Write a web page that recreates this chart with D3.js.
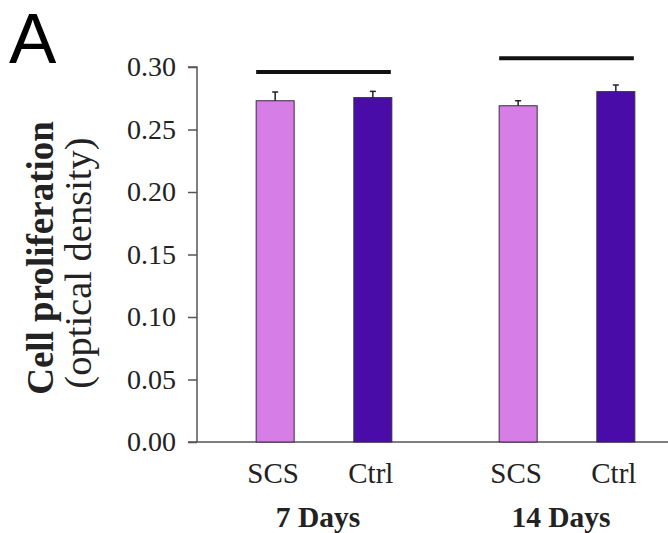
<!DOCTYPE html>
<html lang="en">
    <head>
	<meta charset="utf-8">
	<title>Cell proliferation</title>
	<script src="https://cdn.jsdelivr.net/npm/d3@7"></script>
	<style>
	 body { margin: 0; background: #fff; }
	 svg { display: block; }
	</style>
    </head>
    <body>
	<div id="graph"></div>
	<script type="text/javascript">

	 //Data
	 const groups = ["7 Days", "14 Days"];
	 const series = ["SCS", "Ctrl"];
	 const scsValues = [0.273, 0.269];
	 const ctrlValues = [0.2755, 0.2803];
	 const scsErrors = [0.007, 0.004];
	 const ctrlErrors = [0.005, 0.0053];
	 const barLineValues = [0.296, 0.307];
	 const yTicks = [0, 0.05, 0.10, 0.15, 0.20, 0.25, 0.30];

	 const colors = {SCS: "#d67ee6", Ctrl: "#4a0ca8"};
	 const serif = "'Liberation Serif', 'Times New Roman', serif";

	 //Display specifications
	 const W = 668, H = 533;
	 const margin = {top: 67, right: 0, bottom: 91, left: 197};
	 const height = H - margin.top - margin.bottom;

	 const rows = [];
	 groups.forEach((g, i) => {
	     rows.push({group: g, key: "SCS", value: scsValues[i], err: scsErrors[i]});
	     rows.push({group: g, key: "Ctrl", value: ctrlValues[i], err: ctrlErrors[i]});
	 });

	 //Scales
	 const x0 = d3.scaleBand()
		      .domain(groups)
		      .range([5.5, 491.5]);

	 const x1 = d3.scalePoint()
		      .domain(series)
		      .range([0, x0.bandwidth()])
		      .padding(0.744);

	 const y = d3.scaleLinear()
		     .domain([0, 0.30])
		     .range([height, 0]);

	 const barW = 38;

	 const svg = d3.select("#graph")
		       .append("svg")
		       .attr("width", W)
		       .attr("height", H);

	 //Panel letter
	 svg.append("text")
	    .attr("x", 9)
	    .attr("y", 63)
	    .text("A")
	    .style("font-family", "'Liberation Sans', Arial, sans-serif")
	    .style("font-size", "71px");

	 const container = svg.append("g")
			      .attr("transform", "translate(" + margin.left + "," + margin.top + ")");

	 //Y axis
	 const yAxis = container.append("g")
				.call(d3.axisLeft(y).tickValues(yTicks).tickFormat(d3.format(".2f")).tickSize(9).tickPadding(12));
	 yAxis.select(".domain").attr("stroke", "#555").attr("stroke-width", 1.5).attr("d", "M0," + height + "V0H-9");
	 yAxis.selectAll(".tick line").attr("stroke", "#555").attr("stroke-width", 1.5);
	 yAxis.selectAll(".tick text")
	      .style("font-family", serif)
	      .style("font-size", "28px")
	      .attr("fill", "#222");

	 //X axis line
	 container.append("line")
		  .attr("x1", -9)
		  .attr("x2", W - margin.left)
		  .attr("y1", height)
		  .attr("y2", height)
		  .attr("stroke", "#555")
		  .attr("stroke-width", 1.5);

	 //Bars
	 const bx = d => x0(d.group) + x1(d.key);

	 container.append("g")
		  .selectAll("rect")
		  .data(rows)
		  .enter()
		  .append("rect")
		  .attr("x", d => bx(d) - barW / 2)
		  .attr("y", d => y(d.value))
		  .attr("width", barW)
		  .attr("height", d => height - y(d.value))
		  .attr("fill", d => colors[d.key])
		  .attr("stroke", "#3a2a48")
		  .attr("stroke-width", 1);

	 //Error bars
	 const eb = container.append("g").attr("stroke", "#222").attr("stroke-width", 1.5);
	 eb.selectAll(".stem")
	   .data(rows)
	   .enter()
	   .append("line")
	   .attr("x1", bx).attr("x2", bx)
	   .attr("y1", d => y(d.value))
	   .attr("y2", d => y(d.value + d.err));
	 eb.selectAll(".cap")
	   .data(rows)
	   .enter()
	   .append("line")
	   .attr("x1", d => bx(d) - 3).attr("x2", d => bx(d) + 3)
	   .attr("y1", d => y(d.value + d.err))
	   .attr("y2", d => y(d.value + d.err));

	 //Comparison lines over groups
	 container.append("g")
		  .selectAll("line")
		  .data(groups)
		  .enter()
		  .append("line")
		  .attr("x1", g => x0(g) + x1("SCS") - barW / 2)
		  .attr("x2", g => x0(g) + x1("Ctrl") + barW / 2 - 1)
		  .attr("y1", (g, i) => y(barLineValues[i]))
		  .attr("y2", (g, i) => y(barLineValues[i]))
		  .attr("stroke", "#111")
		  .attr("stroke-width", 4);

	 //Category labels
	 container.append("g")
		  .selectAll("text")
		  .data(rows)
		  .enter()
		  .append("text")
		  .attr("x", d => bx(d) - 2)
		  .attr("y", height + 41)
		  .attr("text-anchor", "middle")
		  .text(d => d.key)
		  .style("font-family", serif)
		  .style("font-size", "29px")
		  .attr("fill", "#222");

	 //Group labels
	 container.append("g")
		  .selectAll("text")
		  .data(groups)
		  .enter()
		  .append("text")
		  .attr("x", g => x0(g) + x0.bandwidth() / 2 - 6)
		  .attr("y", height + 85)
		  .attr("text-anchor", "middle")
		  .text(g => g)
		  .style("font-family", serif)
		  .style("font-weight", "bold")
		  .style("font-size", "29.5px")
		  .attr("fill", "#222");

	 //Y label
	 const yl = svg.append("text")
		       .attr("transform", "translate(0," + 258 + ") rotate(-90)")
		       .attr("text-anchor", "middle")
		       .style("font-family", serif)
		       .attr("fill", "#222");
	 yl.append("tspan")
	   .attr("x", 0)
	   .attr("y", 53)
	   .style("font-weight", "bold")
	   .style("font-size", "37px")
	   .text("Cell proliferation");
	 yl.append("tspan")
	   .attr("x", -5)
	   .attr("y", 91)
	   .style("font-size", "38.5px")
	   .text("(optical density)");

	</script>
    </body>
</html>
